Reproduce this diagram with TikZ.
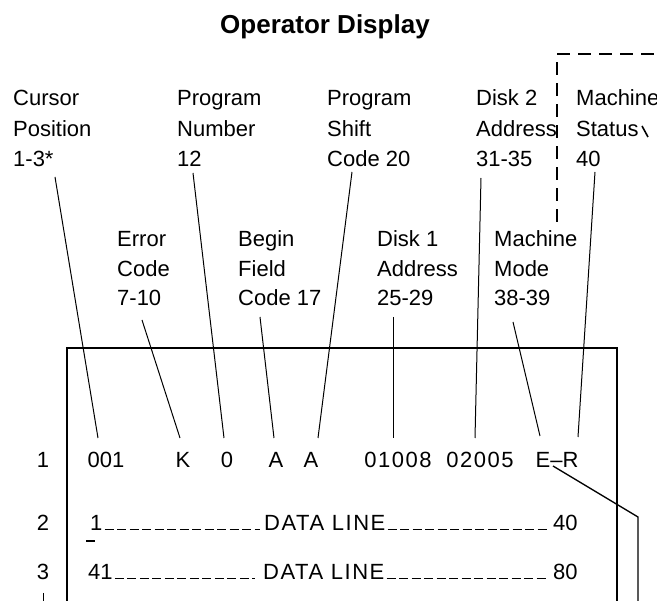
\documentclass[tikz,border=0pt]{standalone}
\usepackage{fontspec}
\setmainfont{Liberation Sans}
\newcommand{\lsp}{\addfontfeature{LetterSpace=7}}
\begin{document}
\begin{tikzpicture}[x=1pt,y=-1pt,
  lab/.style={font=\fontsize{22}{26}\selectfont, inner sep=0pt, anchor=base west},
  item/.style={font=\fontsize{22}{26}\selectfont, inner sep=0pt, anchor=base},
  lead/.style={line width=1pt},
  boxline/.style={line width=1.6pt},
  filler/.style={line width=1.2pt, dash pattern=on 9pt off 3.5pt},
  dashframe/.style={line width=1.5pt, dash pattern=on 13pt off 8pt}]
\useasboundingbox (0,0) rectangle (657,601);

% title
\node[font=\bfseries\fontsize{26}{30}\selectfont, inner sep=0pt, anchor=base] (title) at (325,34) {Operator Display};

% upper labels
\node[lab] (cur1) at (13,106) {Cursor};
\node[lab] (cur2) at (13,137) {Position};
\node[lab] (cur3) at (13,167) {1-3*};
\node[lab] (num1) at (177,106) {Program};
\node[lab] (num2) at (177,137) {Number};
\node[lab] (num3) at (177,167) {12};
\node[lab] (shf1) at (327,106) {Program};
\node[lab] (shf2) at (327,137) {Shift};
\node[lab] (shf3) at (327,167) {Code 20};
\node[lab] (dkb1) at (476,106) {Disk 2};
\node[lab] (dkb2) at (476,137) {Address};
\node[lab] (dkb3) at (476,167) {31-35};
\node[lab] (sta1) at (576,106) {Machine};
\node[lab] (sta2) at (576,137) {Status};
\node[lab] (sta3) at (576,167) {40};

% lower labels
\node[lab] (err1) at (117,247) {Error};
\node[lab] (err2) at (117,277) {Code};
\node[lab] (err3) at (117,306) {7-10};
\node[lab] (beg1) at (238,247) {Begin};
\node[lab] (beg2) at (238,277) {Field};
\node[lab] (beg3) at (238,306) {Code 17};
\node[lab] (dka1) at (377,247) {Disk 1};
\node[lab] (dka2) at (377,277) {Address};
\node[lab] (dka3) at (377,306) {25-29};
\node[lab] (mod1) at (494,247) {Machine};
\node[lab] (mod2) at (494,277) {Mode};
\node[lab] (mod3) at (494,306) {38-39};

% dashed frame
\coordinate (fbot) at (557,222);
\coordinate (ftop) at (557,60);
\coordinate (fleft) at (557,54);
\coordinate (fright) at (657,54);
\draw[dashframe] (fbot) -- (ftop);
\draw[dashframe] (fleft) -- (fright);
\draw[line width=1.6pt] ([shift={(66,-11)}]sta2.base west) -- ([shift={(72,0)}]sta2.base west);

% screen box
\coordinate (bl) at (67,601);
\coordinate (tl) at (67,348);
\coordinate (tr) at (617,348);
\coordinate (br) at (617,601);
\draw[boxline] (bl) -- (tl) -- (tr) -- (br);

% row numbers
\node[item] (r1) at (43,468) {1};
\node[item] (r2) at (43,531) {2};
\node[item] (r3) at (43,580) {3};
\coordinate (tickend) at (43,601);
\draw[lead] ([shift={(0,13)}]r3.base) -- (tickend);

% row 1
\node[item] (i001) at (106,468) {001};
\node[item] (iK) at (183,468) {K};
\node[item] (i0) at (227,468) {0};
\node[item] (iA1) at (276,468) {A};
\node[item] (iA2) at (311,468) {A};
\node[item] (iDa) at (398,468) {\lsp 01008};
\node[item] (iDb) at (480,468) {\lsp 02005};
\node[item] (iER) at (557,468) {E–R};

% row 2 and 3
\node[lab] (d2a) at (90,531) {1};
\node[lab] (d2b) at (264,531) {\lsp DATA LINE};
\node[lab] (d2c) at (553,531) {40};
\node[lab] (d3a) at (88,580) {41};
\node[lab] (d3b) at (263,580) {\lsp DATA LINE};
\node[lab] (d3c) at (553,580) {80};
\draw[filler] ([shift={(2,-1.5)}]d2a.base east) -- ([shift={(-4,-1.5)}]d2b.base west);
\draw[filler] ([shift={(2,-1.5)}]d2b.base east) -- ([shift={(-6,-1.5)}]d2c.base west);
\draw[filler] ([shift={(2,-1.5)}]d3a.base east) -- ([shift={(-8,-1.5)}]d3b.base west);
\draw[filler] ([shift={(2,-1.5)}]d3b.base east) -- ([shift={(-6,-1.5)}]d3c.base west);
\draw[line width=2pt] ([shift={(-4,10)}]d2a.base west) -- ([shift={(5,10)}]d2a.base west);

% leader lines
\draw[lead] ([shift={(42,10)}]cur3.base west) -- ([shift={(-8,-30)}]i001.base);
\draw[lead] ([shift={(16,6)}]num3.base west) -- ([shift={(-3,-30)}]i0.base);
\draw[lead] ([shift={(25,5)}]shf3.base west) -- ([shift={(7,-30)}]iA2.base);
\draw[lead] ([shift={(25,14)}]err3.base west) -- ([shift={(-3,-30)}]iK.base);
\draw[lead] ([shift={(22,11)}]beg3.base west) -- ([shift={(-2,-30)}]iA1.base);
\draw[lead] ([shift={(16,11)}]dka3.base west) -- ([shift={(-5,-30)}]iDa.base);
\draw[lead] ([shift={(5,11)}]dkb3.base west) -- ([shift={(-5,-30)}]iDb.base);
\draw[lead] ([shift={(19,16)}]mod3.base west) -- ([shift={(-17,-32)}]iER.base);
\draw[lead] ([shift={(19,5)}]sta3.base west) -- ([shift={(21,-31)}]iER.base);
\coordinate (rbend) at (638,517);
\coordinate (rbot) at (638,601);
\draw[line width=1.3pt] ([shift={(-4,-2)}]iER.base) -- (rbend) -- (rbot);
\end{tikzpicture}
\end{document}
